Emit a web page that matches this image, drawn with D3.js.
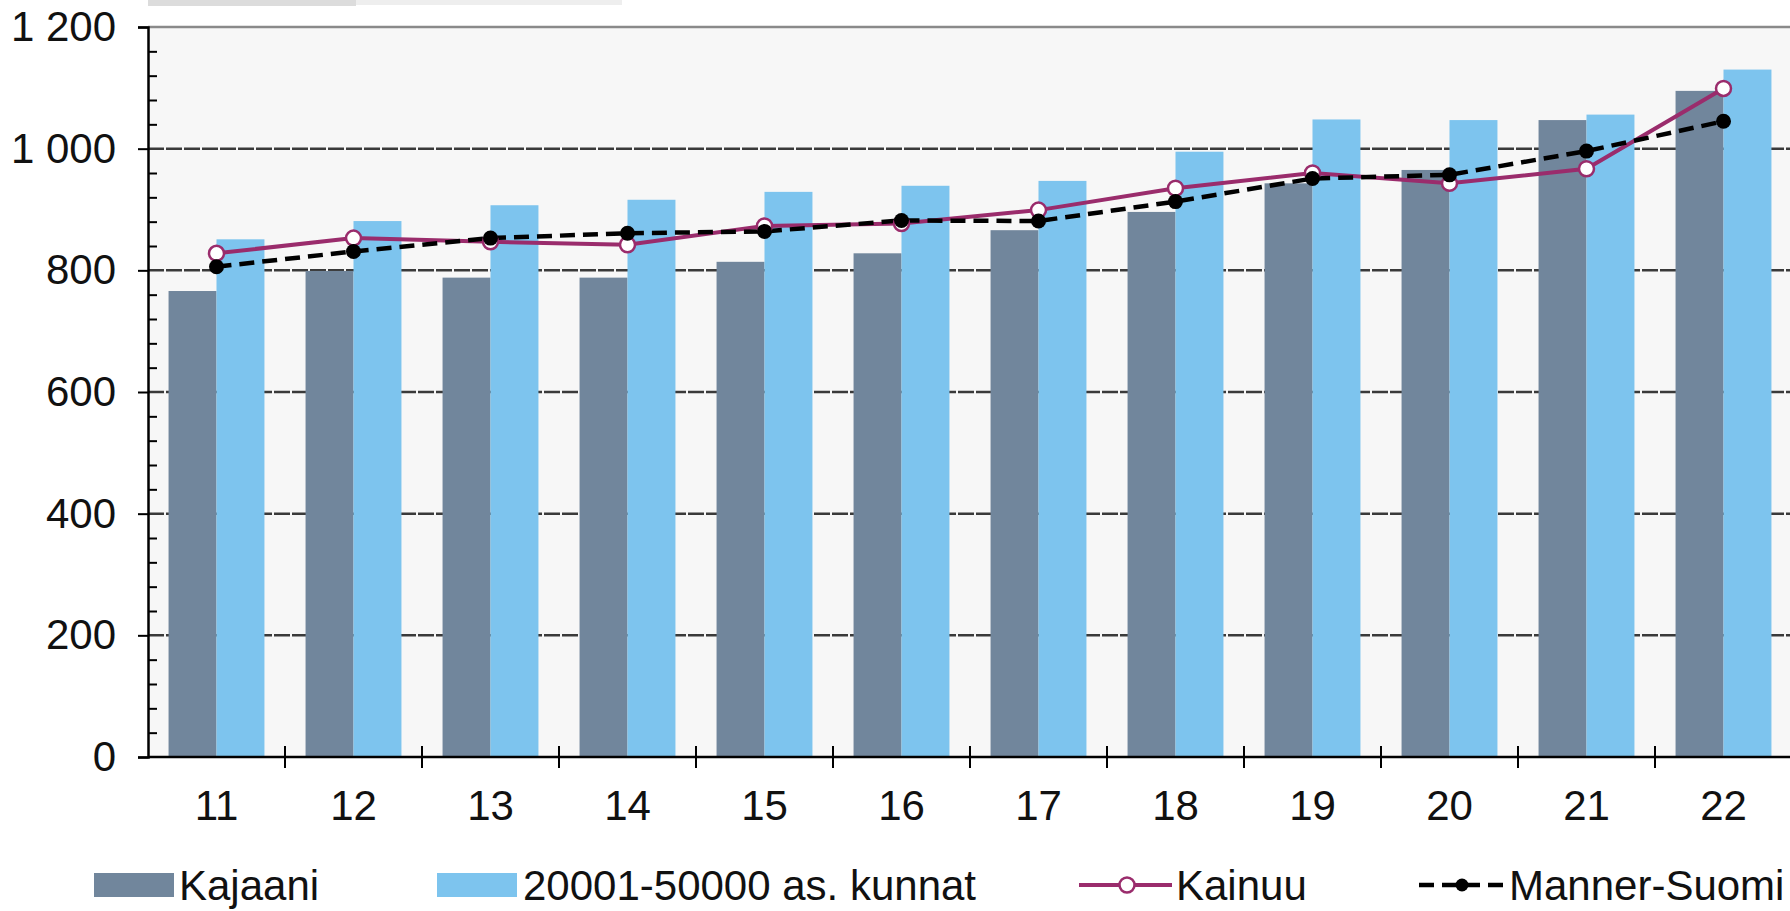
<!DOCTYPE html>
<html><head><meta charset="utf-8">
<script src="https://cdn.jsdelivr.net/npm/d3@7"></script>
<style>
html,body{margin:0;padding:0;background:#fff;}
svg{display:block;font-family:"Liberation Sans",Arial,sans-serif;}
</style></head>
<body>
<svg id="chart" width="1790" height="911"></svg>
<script>
const categories = ["11","12","13","14","15","16","17","18","19","20","21","22"];
const kajaani = [766, 799, 788, 788, 814, 828, 866, 896, 943, 965, 1047, 1095];
const kunnat = [851, 881, 907, 916, 929, 939, 947, 995, 1048, 1047, 1056, 1130];
const kainuu = [828, 853, 847, 842, 873, 877, 899, 935, 960, 943, 967, 1099];
const mannerSuomi = [806, 831, 853, 861, 864, 882, 881, 913, 951, 957, 996, 1045];
const yTicks = [0, 200, 400, 600, 800, 1000, 1200];
const seriesNames = ["Kajaani", "20001-50000 as. kunnat", "Kainuu", "Manner-Suomi"];

const C = {kaj:"#71869c", kun:"#7dc4ee", kai:"#9a2c6c", ms:"#000"};
const FS = 42;
const svg = d3.select("#chart");
const L = 148, R = 1792, T = 27, B = 757;

const x = d3.scaleBand().domain(categories).range([L, R]).paddingInner(0).paddingOuter(0);
const y = d3.scaleLinear().domain([0, 1200]).range([B, T]);
const sub = d3.scaleBand().domain(["a","b"]).range([x.bandwidth()*0.15, x.bandwidth()*0.85]).padding(0);

// faint artifact at top
svg.append("rect").attr("x",148).attr("y",0).attr("width",474).attr("height",5).attr("fill","#eeeeee");
svg.append("rect").attr("x",148).attr("y",0).attr("width",208).attr("height",6).attr("fill","#dcdcdc");

// plot background
svg.append("rect").attr("x",L).attr("y",T).attr("width",R-L).attr("height",B-T).attr("fill","#f7f7f7");

// gridlines
svg.append("g").selectAll("line").data(yTicks.filter(d=>d>0 && d<1200)).join("line")
  .attr("x1",L).attr("x2",R).attr("y1",d=>y(d)).attr("y2",d=>y(d))
  .attr("stroke","#3a3a3a").attr("stroke-width",2.5).attr("stroke-dasharray","16,2");
svg.append("line").attr("x1",L).attr("x2",R).attr("y1",y(1200)).attr("y2",y(1200))
  .attr("stroke","#8a8a8a").attr("stroke-width",2.5);

// bars
const g = svg.append("g");
g.selectAll("rect.kaj").data(categories).join("rect").attr("class","kaj")
  .attr("x",(d)=>x(d)+sub("a")).attr("width",sub.bandwidth())
  .attr("y",(d,i)=>y(kajaani[i])).attr("height",(d,i)=>y(0)-y(kajaani[i])).attr("fill",C.kaj);
g.selectAll("rect.kun").data(categories).join("rect").attr("class","kun")
  .attr("x",(d)=>x(d)+sub("b")).attr("width",sub.bandwidth())
  .attr("y",(d,i)=>y(kunnat[i])).attr("height",(d,i)=>y(0)-y(kunnat[i])).attr("fill",C.kun);

// y axis
const yAxisMajor = d3.axisLeft(y).tickValues(yTicks).tickSize(10).tickPadding(22)
  .tickFormat(d=>d3.format(",")(d).replace(",", " "));
const ya = svg.append("g").attr("transform",`translate(${L},0)`).call(yAxisMajor);
ya.select(".domain").attr("stroke","#000").attr("stroke-width",2.5);
ya.selectAll(".tick line").attr("stroke","#000").attr("stroke-width",2);
ya.selectAll(".tick text").attr("font-size",FS).attr("fill","#111").attr("font-family","'Liberation Sans',Arial,sans-serif");
const minor = d3.range(0,1201,40).filter(v=>v%200!==0);
const yAxisMinor = d3.axisRight(y).tickValues(minor).tickSize(9).tickFormat("");
const ym = svg.append("g").attr("transform",`translate(${L},0)`).call(yAxisMinor);
ym.select(".domain").remove();
ym.selectAll(".tick line").attr("stroke","#000").attr("stroke-width",2);

// x axis
svg.append("line").attr("x1",L).attr("x2",R).attr("y1",B).attr("y2",B).attr("stroke","#000").attr("stroke-width",2.5);
const xa = svg.append("g").attr("transform",`translate(0,${B})`)
  .call(d3.axisBottom(x).tickSize(0).tickPadding(33));
xa.select(".domain").remove();
xa.selectAll(".tick text").attr("font-size",FS).attr("fill","#111").attr("font-family","'Liberation Sans',Arial,sans-serif");
svg.append("g").selectAll("line").data(categories.slice(1)).join("line")
  .attr("x1",d=>x(d)).attr("x2",d=>x(d)).attr("y1",B-11).attr("y2",B+11)
  .attr("stroke","#000").attr("stroke-width",2);

// lines
const cx = d=>x(d)+x.bandwidth()/2;
const lineGen = vals => d3.line().x((d)=>cx(d)).y((d,i)=>y(vals[i]))(categories);
svg.append("path").attr("d",lineGen(kainuu)).attr("fill","none").attr("stroke",C.kai).attr("stroke-width",4);
svg.append("path").attr("d",lineGen(mannerSuomi)).attr("fill","none").attr("stroke",C.ms).attr("stroke-width",4.5).attr("stroke-dasharray","15,8");
svg.append("g").selectAll("circle").data(categories).join("circle")
  .attr("cx",cx).attr("cy",(d,i)=>y(kainuu[i])).attr("r",7.5).attr("fill","#fff").attr("stroke",C.kai).attr("stroke-width",2.5);
svg.append("g").selectAll("circle").data(categories).join("circle")
  .attr("cx",cx).attr("cy",(d,i)=>y(mannerSuomi[i])).attr("r",7.5).attr("fill","#000");

// legend
const ly = 885;
const lg = svg.append("g").attr("font-size",FS).attr("fill","#111");
lg.append("rect").attr("x",94).attr("y",ly-12).attr("width",80).attr("height",24).attr("fill",C.kaj);
lg.append("text").attr("x",179).attr("y",ly).attr("dy","0.36em").text(seriesNames[0]);
lg.append("rect").attr("x",437).attr("y",ly-12).attr("width",80).attr("height",24).attr("fill",C.kun);
lg.append("text").attr("x",523).attr("y",ly).attr("dy","0.36em").text(seriesNames[1]);
lg.append("line").attr("x1",1079).attr("x2",1172).attr("y1",ly).attr("y2",ly).attr("stroke",C.kai).attr("stroke-width",4);
lg.append("circle").attr("cx",1127).attr("cy",ly).attr("r",7.5).attr("fill","#fff").attr("stroke",C.kai).attr("stroke-width",2.5);
lg.append("text").attr("x",1176).attr("y",ly).attr("dy","0.36em").text(seriesNames[2]);
lg.append("line").attr("x1",1419).attr("x2",1506).attr("y1",ly).attr("y2",ly).attr("stroke","#000").attr("stroke-width",4.5).attr("stroke-dasharray","15,8");
lg.append("circle").attr("cx",1462).attr("cy",ly).attr("r",6.5).attr("fill","#000");
lg.append("text").attr("x",1509).attr("y",ly).attr("dy","0.36em").text(seriesNames[3]);
</script>
</body></html>
